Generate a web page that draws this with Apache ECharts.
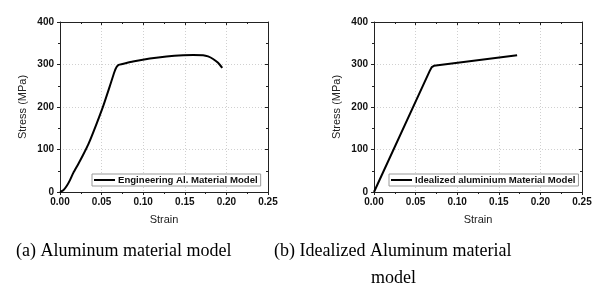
<!DOCTYPE html>
<html>
<head>
<meta charset="utf-8">
<script src="https://cdn.jsdelivr.net/npm/echarts@6/dist/echarts.min.js"></script>
<style>html,body{margin:0;padding:0;background:#fff}#c{width:611px;height:299px}</style>
</head>
<body>
<div id="c"></div>
<script>
// ---- data ----
const engineeringCurve = [
  [0,0],[0.004,4],[0.008,14],[0.012,28],[0.016,45],[0.022,66],[0.0277,87],[0.034,112],
  [0.0397,139],[0.0517,201],[0.0597,248],[0.0655,283],[0.068,294],[0.0705,299],[0.075,301],
  [0.0877,307],[0.108,314],[0.128,319],[0.148,322],[0.16,322.5],[0.172,322],[0.178,319],
  [0.184,313],[0.19,304],[0.195,292]
];
const idealizedCurve = [[0,0],[0.067,285],[0.0695,294],[0.072,297],[0.172,322]];
const seriesNames = ['Engineering Al. Material Model','Idealized aluminium Material Model'];
const xTicks = [0, 0.05, 0.10, 0.15, 0.20, 0.25];
const yTicks = [0, 100, 200, 300, 400];
const captions = ['(a) Aluminum material model','(b) Idealized Aluminum material','model'];

const sans = 'Arial, "Liberation Sans", sans-serif';
const serif = '"Times New Roman", "Liberation Serif", serif';
const axisColor = '#222';

function xMain(grid){
  return {type:'value', gridIndex:grid, min:xTicks[0], max:xTicks[xTicks.length-1], interval:xTicks[1]-xTicks[0],
    name:'Strain', nameLocation:'middle', nameGap:22, nameTextStyle:{fontFamily:sans,fontSize:11,color:'#222'},
    axisLine:{onZero:false,lineStyle:{color:axisColor,width:1}},
    axisTick:{show:true,inside:false,length:3,lineStyle:{color:axisColor}},
    minorTick:{show:true,splitNumber:2,length:2,lineStyle:{color:axisColor}},
    axisLabel:{fontFamily:sans,fontSize:10,fontWeight:'bold',color:'#111',margin:5,formatter:v=>v.toFixed(2)},
    splitLine:{show:true,lineStyle:{color:'#d0d0d0',type:[1,2],width:1}}};
}
function xTop(grid){
  return {type:'value', gridIndex:grid, position:'top', min:xTicks[0], max:xTicks[xTicks.length-1], interval:xTicks[1]-xTicks[0],
    axisLine:{onZero:false,lineStyle:{color:axisColor,width:1}},
    axisTick:{show:true,inside:true,length:3,lineStyle:{color:axisColor}},
    minorTick:{show:true,splitNumber:2,length:2,lineStyle:{color:axisColor}},
    axisLabel:{show:false}, splitLine:{show:false}};
}
function yMain(grid){
  return {type:'value', gridIndex:grid, min:yTicks[0], max:yTicks[yTicks.length-1], interval:yTicks[1]-yTicks[0],
    name:'Stress (MPa)', nameLocation:'middle', nameGap:32, nameTextStyle:{fontFamily:sans,fontSize:11,color:'#222'},
    axisLine:{show:true,onZero:false,lineStyle:{color:axisColor,width:1}},
    axisTick:{show:true,inside:false,length:3,lineStyle:{color:axisColor}},
    minorTick:{show:true,splitNumber:2,length:2,lineStyle:{color:axisColor}},
    axisLabel:{fontFamily:sans,fontSize:10,fontWeight:'bold',color:'#111',margin:6},
    splitLine:{show:true,lineStyle:{color:'#d0d0d0',type:[1,2],width:1}}};
}
function yRight(grid){
  return {type:'value', gridIndex:grid, position:'right', min:yTicks[0], max:yTicks[yTicks.length-1], interval:yTicks[1]-yTicks[0],
    axisLine:{show:true,onZero:false,lineStyle:{color:axisColor,width:1}},
    axisTick:{show:true,inside:true,length:3,lineStyle:{color:axisColor}},
    minorTick:{show:true,splitNumber:2,length:2,lineStyle:{color:axisColor}},
    axisLabel:{show:false}, splitLine:{show:false}};
}
function legend(idx,left){
  return {data:[{name:seriesNames[idx], icon:'rect'}], left:left, top:174, orient:'horizontal',
    itemWidth:21, itemHeight:2, itemGap:4, padding:[1,3,1,2],
    borderColor:'#999', borderWidth:1, backgroundColor:'#fff',
    itemStyle:{color:'#000'},
    textStyle:{fontFamily:sans,fontSize:9.6,fontWeight:'bold',color:'#111',lineHeight:10,padding:[0,0,0,-2]}};
}

const chart = echarts.init(document.getElementById('c'), null, {renderer:'canvas'});
chart.setOption({
  animation:false,
  backgroundColor:'#fff',
  title:[
    {text:captions[0], left:16, top:242, padding:0, textStyle:{fontFamily:serif,fontSize:18,fontWeight:'normal',color:'#000'}},
    {text:captions[1], left:274, top:242, padding:0, textStyle:{fontFamily:serif,fontSize:18,fontWeight:'normal',color:'#000'}},
    {text:captions[2], left:371, top:269, padding:0, textStyle:{fontFamily:serif,fontSize:18,fontWeight:'normal',color:'#000'}}
  ],
  grid:[
    {left:60, top:22, width:208, height:170},
    {left:374, top:22, width:208, height:170}
  ],
  xAxis:[xMain(0), xMain(1), xTop(0), xTop(1)],
  yAxis:[yMain(0), yMain(1), yRight(0), yRight(1)],
  legend:[legend(0,92), legend(1,389)],
  series:[
    {name:seriesNames[0], type:'line', xAxisIndex:0, yAxisIndex:0, data:engineeringCurve, symbol:'none', smooth:0.2,
     lineStyle:{color:'#000',width:2}, itemStyle:{color:'#000'}},
    {name:seriesNames[1], type:'line', xAxisIndex:1, yAxisIndex:1, data:idealizedCurve, symbol:'none',
     lineStyle:{color:'#000',width:2}, itemStyle:{color:'#000'}}
  ]
});
</script>
</body>
</html>
